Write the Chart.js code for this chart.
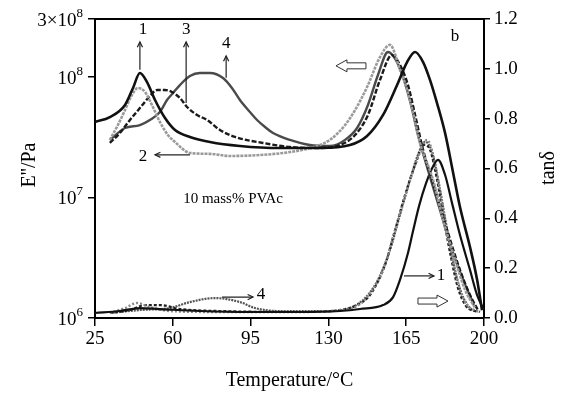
<!DOCTYPE html>
<html>
<head>
<meta charset="utf-8">
<script src="https://cdn.jsdelivr.net/npm/chart.js@4.4.1/dist/chart.umd.min.js"></script>
<style>
  body { margin: 0; background: #fff; }
</style>
</head>
<body>
<canvas id="dma" width="568" height="397"></canvas>
<script>
// E'' (Pa) vs temperature, samples 1-4
const tempE1 = [25, 31.7, 38.5, 42.1, 45.2, 48.4, 52, 56.5, 61, 67.7, 76.7, 90.2, 108.2, 126.2, 139.7, 147.4, 154.6, 160.9, 165.4, 169, 172.6, 175.7, 178.9, 182.5, 186.1, 189.2, 193.7, 196.9, 199.1];
const lossE1 = [4.21e7, 4.62e7, 5.82e7, 8.05e7, 1.07e8, 9.0e7, 6.4e7, 4.54e7, 3.61e7, 3.16e7, 2.87e7, 2.66e7, 2.56e7, 2.56e7, 2.71e7, 3.22e7, 4.81e7, 8.51e7, 1.32e8, 1.60e8, 1.32e8, 9.4e7, 6.0e7, 3.4e7, 1.6e7, 8.3e6, 3.87e6, 2.07e6, 1.16e6];

const tempE2 = [31.7, 35.3, 38.5, 41.6, 44.3, 47.5, 50.6, 54.2, 57.8, 61, 67.7, 76.7, 85.7, 99.2, 112.7, 121.7, 130.7, 137.5, 142, 147.4, 153.2, 157.7, 162.2, 165.4, 168.1, 171.2, 177.1, 181.6, 187, 191.5, 196];
const lossE2 = [2.99e7, 3.97e7, 5.28e7, 7.04e7, 8.05e7, 7.45e7, 5.82e7, 4.21e7, 3.28e7, 2.87e7, 2.33e7, 2.29e7, 2.2e7, 2.24e7, 2.37e7, 2.56e7, 2.99e7, 3.97e7, 5.28e7, 8.2e7, 1.45e8, 1.83e8, 1.14e8, 7.74e7, 4.99e7, 2.82e7, 1.39e7, 6.5e6, 3.03e6, 1.71e6, 1.21e6];

const tempE3 = [31.7, 36.2, 40.7, 45.2, 49.7, 52.9, 56.5, 59.6, 63.2, 66.4, 70.9, 75.4, 81.2, 88, 100.6, 112.7, 126.2, 135.2, 142, 147.8, 153.2, 158.6, 162.2, 165.8, 169, 172.6, 178, 183.4, 189.2, 193.7, 197.3];
const lossE3 = [2.82e7, 3.41e7, 4.37e7, 5.49e7, 6.9e7, 7.74e7, 7.74e7, 7.45e7, 6.65e7, 5.6e7, 4.81e7, 4.37e7, 3.61e7, 3.16e7, 2.82e7, 2.61e7, 2.56e7, 2.71e7, 3.28e7, 4.81e7, 9.38e7, 1.51e8, 1.25e8, 8.51e7, 4.81e7, 2.47e7, 1.15e7, 5.36e6, 2.5e6, 1.55e6, 1.16e6];

const tempE4 = [31.7, 38.5, 45.2, 49.7, 54.2, 57.4, 60.1, 63.2, 67.7, 72.2, 76.7, 82.6, 86.6, 90.2, 94.7, 97.9, 101.5, 105.1, 112.7, 121.7, 130.7, 137.5, 142.9, 147.8, 152.3, 156.8, 160.4, 164, 167.2, 170.3, 174.8, 180.2, 185.6, 191, 195.5];
const lossE4 = [2.99e7, 3.75e7, 3.97e7, 4.37e7, 5.09e7, 6.4e7, 7.31e7, 8.51e7, 1.01e8, 1.07e8, 1.07e8, 9.73e7, 8.05e7, 6.4e7, 5.09e7, 4.37e7, 3.82e7, 3.41e7, 2.99e7, 2.71e7, 2.66e7, 2.99e7, 3.75e7, 5.82e7, 1.03e8, 1.60e8, 1.37e8, 9.38e7, 5.82e7, 3.28e7, 1.68e7, 7.85e6, 3.66e6, 1.99e6, 1.28e6];

// tan delta vs temperature, samples 1-4
const tempT1 = [25, 36.2, 45.2, 54.2, 72.2, 94.7, 117.2, 135.2, 144.2, 154.6, 159.1, 162.2, 165.8, 168.1, 170.8, 173.9, 176.6, 179.3, 182.5, 185.6, 189.2, 193.7, 196.9, 200];
const tanT1 = [0.020, 0.028, 0.040, 0.036, 0.028, 0.024, 0.024, 0.028, 0.036, 0.052, 0.084, 0.153, 0.261, 0.350, 0.450, 0.540, 0.600, 0.635, 0.574, 0.462, 0.333, 0.193, 0.092, 0.032];

const tempT2 = [31.7, 38.5, 43.9, 49.7, 58.7, 81.2, 117.2, 135.2, 142, 147.4, 154.6, 159.1, 163.6, 169.9, 174.4, 177.1, 180.2, 183.4, 186.1, 189.2, 192.4, 198.2];
const tanT2 = [0.020, 0.040, 0.060, 0.044, 0.028, 0.024, 0.024, 0.032, 0.044, 0.084, 0.193, 0.325, 0.462, 0.635, 0.715, 0.655, 0.514, 0.353, 0.225, 0.112, 0.052, 0.024];

const tempT3 = [31.7, 40.7, 47.5, 54.2, 63.2, 81.2, 117.2, 135.2, 142.9, 148.7, 155.5, 160.0, 164.5, 169.0, 173.0, 175.7, 178.9, 182.0, 185.2, 188.3, 191.9, 197.3];
const tanT3 = [0.020, 0.032, 0.052, 0.052, 0.036, 0.028, 0.024, 0.032, 0.052, 0.092, 0.213, 0.353, 0.494, 0.614, 0.695, 0.675, 0.554, 0.394, 0.241, 0.120, 0.048, 0.024];

const tempT4 = [31.7, 45.2, 58.7, 67.7, 78.9, 90.2, 96.9, 108.2, 130.7, 139.7, 146.5, 152.3, 157.7, 162.2, 166.7, 170.3, 173.5, 176.6, 179.8, 183.0, 186.1, 189.7, 193.7, 198.2];
const tanT4 = [0.020, 0.032, 0.040, 0.064, 0.080, 0.064, 0.040, 0.028, 0.028, 0.040, 0.080, 0.153, 0.273, 0.414, 0.554, 0.655, 0.707, 0.667, 0.534, 0.373, 0.225, 0.104, 0.040, 0.024];

const xTicks = [25, 60, 95, 130, 165, 200];
const eTicks = [1e6, 1e7, 1e8, 3e8];
// [prefix, power] for the log axis labels
const eTickText = [['10', '6'], ['10', '7'], ['10', '8'], ['3\u00d710', '8']];

const serif = "'Liberation Serif', 'DejaVu Serif', serif";

function pts(xs, ys) {
  return xs.map((x, i) => ({ x: x, y: ys[i] }));
}

function line(label, xs, ys, axis, color, width, dash) {
  return {
    label: label,
    data: pts(xs, ys),
    yAxisID: axis,
    borderColor: color,
    borderWidth: width,
    borderDash: dash,
    pointRadius: 0,
    fill: false,
    cubicInterpolationMode: 'monotone'
  };
}

// labels, arrows, box top, axis titles and power-of-ten ticks
const notes = {
  id: 'notes',
  afterDatasetsDraw(chart) {
    const c = chart.ctx;
    const sx = chart.scales.x, sy = chart.scales.yTan, se = chart.scales.y;
    const X = v => sx.getPixelForValue(v);
    const Y = v => sy.getPixelForValue(v);
    const a = chart.chartArea;
    c.save();
    c.strokeStyle = '#000';
    c.lineWidth = 2;
    c.beginPath();
    c.moveTo(a.left, a.top);
    c.lineTo(a.right, a.top);
    c.stroke();

    // log axis labels with superscripts
    c.fillStyle = '#000';
    c.textBaseline = 'alphabetic';
    eTicks.forEach((v, i) => {
      const y = se.getPixelForValue(v);
      const right = a.left - 12;
      c.font = '13px ' + serif;
      const pw = c.measureText(eTickText[i][1]).width;
      c.textAlign = 'left';
      c.fillText(eTickText[i][1], right - pw, y - 2);
      c.font = '19px ' + serif;
      c.textAlign = 'right';
      c.fillText(eTickText[i][0], right - pw, y + 7);
    });

    // axis titles
    c.font = '20px ' + serif;
    c.textAlign = 'center';
    c.textBaseline = 'middle';
    [["E''/Pa", 30, 165], ['tan\u03b4', 549, 168]].forEach(t => {
      c.save();
      c.translate(t[1], t[2]);
      c.rotate(-Math.PI / 2);
      c.fillText(t[0], 0, 0);
      c.restore();
    });

    c.font = '17px ' + serif;
    [['1', 46.6, 1.157], ['3', 66, 1.157], ['4', 84, 1.100], ['2', 46.6, 0.647],
     ['b', 187, 1.128], ['1', 180.7, 0.169], ['4', 99.7, 0.096]].forEach(t => {
      c.fillText(t[0], X(t[1]), Y(t[2]));
    });
    c.font = '15px ' + serif;
    c.fillText('10 mass% PVAc', X(87.1), Y(0.478));

    // thin arrows: [x0, y0, x1, y1] head at end
    c.lineWidth = 1.2;
    c.strokeStyle = '#222';
    [[45.2, 0.996, 45.2, 1.108], [66, 0.863, 66, 1.108], [84, 0.964, 84, 1.052],
     [67.7, 0.655, 52, 0.655], [164, 0.169, 177.5, 0.169], [82.1, 0.084, 96.1, 0.084]].forEach(r => {
      const x0 = X(r[0]), y0 = Y(r[1]), x1 = X(r[2]), y1 = Y(r[3]);
      const ang = Math.atan2(y1 - y0, x1 - x0);
      c.beginPath();
      c.moveTo(x0, y0);
      c.lineTo(x1, y1);
      c.stroke();
      c.beginPath();
      c.moveTo(x1 - 6 * Math.cos(ang - 0.45), y1 - 6 * Math.sin(ang - 0.45));
      c.lineTo(x1, y1);
      c.lineTo(x1 - 6 * Math.cos(ang + 0.45), y1 - 6 * Math.sin(ang + 0.45));
      c.stroke();
    });

    // hollow block arrows
    c.lineWidth = 1;
    c.strokeStyle = '#333';
    [[146.9, 133.4, 1.012], [170.3, 183.8, 0.068]].forEach(h => {
      const x0 = X(h[0]), x1 = X(h[1]), y = Y(h[2]);
      const dir = Math.sign(x1 - x0);
      const hx = x1 - dir * 11;
      c.beginPath();
      c.moveTo(x0, y - 3);
      c.lineTo(hx, y - 3);
      c.lineTo(hx, y - 6);
      c.lineTo(x1, y);
      c.lineTo(hx, y + 6);
      c.lineTo(hx, y + 3);
      c.lineTo(x0, y + 3);
      c.closePath();
      c.fillStyle = '#fff';
      c.fill();
      c.stroke();
    });
    c.restore();
  }
};

const ctx = document.getElementById('dma').getContext('2d');
const chart = new Chart(ctx, {
  type: 'line',
  data: {
    datasets: [
      line("E'' 1", tempE1, lossE1, 'y', '#111', 2.6, []),
      line("E'' 2", tempE2, lossE2, 'y', '#9a9a9a', 2.6, [3, 1]),
      line("E'' 3", tempE3, lossE3, 'y', '#1a1a1a', 2.4, [5, 2]),
      line("E'' 4", tempE4, lossE4, 'y', '#4a4a4a', 2.4, []),
      line('tan 1', tempT1, tanT1, 'yTan', '#111', 2.2, []),
      line('tan 2', tempT2, tanT2, 'yTan', '#8a8a8a', 2.4, [2, 2]),
      line('tan 3', tempT3, tanT3, 'yTan', '#222', 2.2, [3, 2]),
      line('tan 4', tempT4, tanT4, 'yTan', '#555', 2.2, [2, 1])
    ]
  },
  options: {
    responsive: false,
    animation: false,
    devicePixelRatio: 1,
    layout: { padding: { top: 19, left: 0, right: 0, bottom: 0 } },
    plugins: { legend: { display: false }, tooltip: { enabled: false } },
    scales: {
      x: {
        type: 'linear',
        min: 25,
        max: 200,
        afterBuildTicks: s => { s.ticks = xTicks.map(v => ({ value: v })); },
        ticks: { color: '#000', font: { family: serif, size: 19 }, padding: 2, maxRotation: 0 },
        grid: { drawOnChartArea: false, tickLength: 8, color: '#000', lineWidth: 1.5 },
        border: { color: '#000', width: 2 },
        title: { display: true, text: 'Temperature/\u00b0C', color: '#000', font: { family: serif, size: 20 }, padding: { top: 14 } },
        afterFit: s => { s.height = 79; }
      },
      y: {
        type: 'logarithmic',
        position: 'left',
        min: 1e6,
        max: 3e8,
        afterBuildTicks: s => { s.ticks = eTicks.map(v => ({ value: v })); },
        ticks: { autoSkip: false, major: { enabled: false }, callback: () => '' },
        grid: { drawOnChartArea: false, tickLength: 7, color: '#000', lineWidth: 1.5 },
        border: { color: '#000', width: 2 },
        afterFit: s => { s.width = 95; }
      },
      yTan: {
        type: 'linear',
        position: 'right',
        min: 0,
        max: 1.2,
        ticks: { stepSize: 0.2, color: '#000', font: { family: serif, size: 19 }, padding: 4, callback: v => v.toFixed(1) },
        grid: { drawOnChartArea: false, tickLength: 6, color: '#000', lineWidth: 1.5 },
        border: { color: '#000', width: 2 },
        afterFit: s => { s.width = 84; }
      }
    }
  },
  plugins: [notes]
});
</script>
</body>
</html>
